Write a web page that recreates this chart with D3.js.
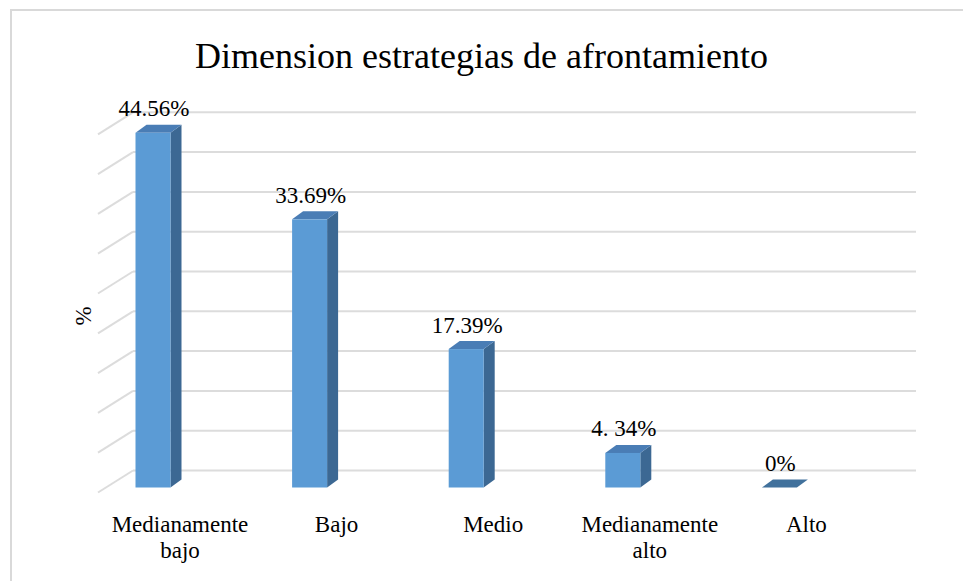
<!DOCTYPE html>
<html>
<head>
<meta charset="utf-8">
<script src="https://cdn.jsdelivr.net/npm/d3@7"></script>
<style>
  html, body { margin: 0; padding: 0; background: #fff; }
</style>
</head>
<body>
<div id="chart"></div>
<script>
const categories = ["Medianamente bajo", "Bajo", "Medio", "Medianamente alto", "Alto"];
const categoryLines = [["Medianamente", "bajo"], ["Bajo"], ["Medio"], ["Medianamente", "alto"], ["Alto"]];
const values = [44.56, 33.69, 17.39, 4.34, 0];
const valueLabels = ["44.56%", "33.69%", "17.39%", "4. 34%", "0%"];
const yTicks = [0, 5, 10, 15, 20, 25, 30, 35, 40, 45];

const WIDTH = 963, HEIGHT = 581;
const FONT = "'Liberation Serif', 'DejaVu Serif', 'Times New Roman', serif";
const BAR_W = 35;
const DEPTH = { dx: 11, dy: -8 };   // bar top/side offset
const WALL = { dy: -17 };           // back wall relative to bar front
const SIDE = { dx: -35, dy: 22 };   // left wall lines

const svg = d3.select("#chart").append("svg")
  .attr("width", WIDTH)
  .attr("height", HEIGHT)
  .attr("font-family", FONT);

// chart border
svg.append("rect")
  .attr("x", 11).attr("y", 10)
  .attr("width", 1200).attr("height", 1200)
  .attr("fill", "none")
  .attr("stroke", "#d9d9d9")
  .attr("stroke-width", 2);

const x = d3.scaleBand()
  .domain(categories)
  .range([133, 916]);

const y = d3.scaleLinear()
  .domain([0, 45])
  .range([487.5, 129.3]);

// back wall gridlines
const grid = svg.append("g");
grid.selectAll("line.h")
  .data(yTicks)
  .enter().append("line")
  .attr("class", "h")
  .attr("x1", x.range()[0]).attr("x2", x.range()[1])
  .attr("y1", d => y(d) + WALL.dy).attr("y2", d => y(d) + WALL.dy)
  .attr("stroke", "#dcdcdc").attr("stroke-width", 2);

grid.selectAll("line.s")
  .data(yTicks)
  .enter().append("line")
  .attr("class", "s")
  .attr("x1", x.range()[0]).attr("x2", x.range()[0] + SIDE.dx)
  .attr("y1", d => y(d) + WALL.dy).attr("y2", d => y(d) + WALL.dy + SIDE.dy)
  .attr("stroke", "#dcdcdc").attr("stroke-width", 2);

// bars
const data = categories.map((c, i) => ({ c, v: values[i], label: valueLabels[i], lines: categoryLines[i] }));
const bars = svg.append("g").selectAll("g")
  .data(data)
  .enter().append("g");

const left = d => x(d.c) + 2.5;

bars.filter(d => d.v > 0).append("path")
  .attr("fill", "#3c6893")
  .attr("d", d => {
    const x1 = left(d) + BAR_W, yt = y(d.v), yb = y(0);
    return `M${x1},${yt}L${x1 + DEPTH.dx},${yt + DEPTH.dy}L${x1 + DEPTH.dx},${yb + DEPTH.dy}L${x1},${yb}Z`;
  });

bars.append("path")
  .attr("fill", d => d.v > 0 ? "#4a7db5" : "#41719c")
  .attr("d", d => {
    const x0 = left(d), x1 = x0 + BAR_W, yt = y(d.v);
    return `M${x0},${yt}L${x1},${yt}L${x1 + DEPTH.dx},${yt + DEPTH.dy}L${x0 + DEPTH.dx},${yt + DEPTH.dy}Z`;
  });

bars.filter(d => d.v > 0).append("rect")
  .attr("fill", "#5b9bd5")
  .attr("x", d => left(d))
  .attr("y", d => y(d.v))
  .attr("width", BAR_W)
  .attr("height", d => y(0) - y(d.v));

// value labels
bars.append("text")
  .attr("x", d => left(d) + BAR_W / 2 + 1)
  .attr("y", d => y(d.v) - 16.5)
  .attr("text-anchor", "middle")
  .attr("font-size", 23)
  .text(d => d.label);

// category labels
const cat = bars.append("text")
  .attr("text-anchor", "middle")
  .attr("font-size", 23);
cat.selectAll("tspan")
  .data(d => d.lines.map(t => ({ t, d })))
  .enter().append("tspan")
  .attr("x", o => left(o.d) + BAR_W / 2 + 27)
  .attr("y", (o, i) => 531.7 + i * 26.5)
  .text(o => o.t);

// title
svg.append("text")
  .attr("x", 481.5)
  .attr("y", 68)
  .attr("text-anchor", "middle")
  .attr("font-size", 36)
  .text("Dimension estrategias de afrontamiento");

// y axis title
svg.append("text")
  .attr("transform", "translate(91, 316) rotate(-90)")
  .attr("text-anchor", "middle")
  .attr("font-size", 23)
  .text("%");
</script>
</body>
</html>
